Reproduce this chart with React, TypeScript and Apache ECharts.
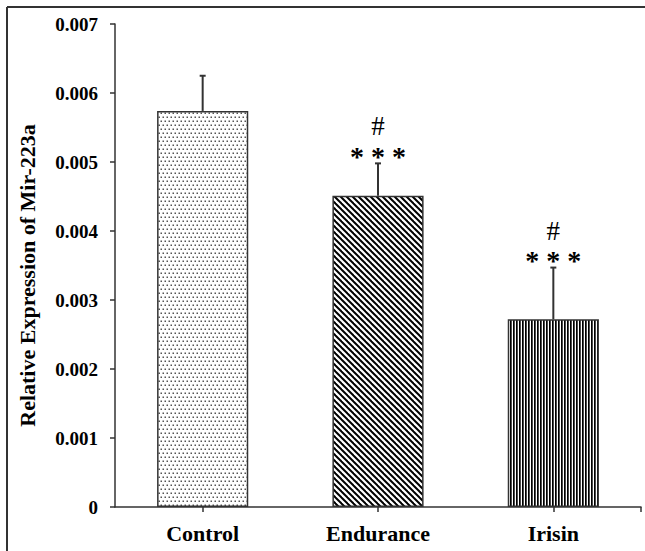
import React, { useEffect, useRef } from 'react';
import * as echarts from 'echarts';

const categories = ['Control', 'Endurance', 'Irisin'];
const means = [0.00574, 0.00451, 0.00272];
const errorTops = [0.00625, 0.00498, 0.00347];
const sigStars = ['', '* * *', '* * *'];
const sigHash = ['', '#', '#'];
const yTickLabels = ['0', '0.001', '0.002', '0.003', '0.004', '0.005', '0.006', '0.007'];
const yAxisName = 'Relative Expression of Mir-223a';

const W = 645;
const H = 551;
const GRID = { left: 115, right: 4, top: 24, bottom: 44 };
const FONT = '"Liberation Serif", "Times New Roman", serif';

function makeCanvas(w: number, h: number, draw: (ctx: CanvasRenderingContext2D) => void) {
  const c = document.createElement('canvas');
  c.width = w;
  c.height = h;
  const ctx = c.getContext('2d')!;
  ctx.fillStyle = '#fff';
  ctx.fillRect(0, 0, w, h);
  draw(ctx);
  return c;
}

function makePatterns() {
  const dots = makeCanvas(8, 8, (ctx) => {
    ctx.fillStyle = '#555';
    ctx.fillRect(0.5, 0.5, 1.5, 1.5);
    ctx.fillRect(4.5, 0.5, 1.5, 1.5);
    ctx.fillRect(2.5, 4.5, 1.5, 1.5);
    ctx.fillRect(6.5, 4.5, 1.5, 1.5);
  });
  const diag = makeCanvas(6, 6, (ctx) => {
    ctx.strokeStyle = '#000';
    ctx.lineWidth = 2;
    for (const k of [-6, 0, 6]) {
      ctx.beginPath();
      ctx.moveTo(k - 1, -1);
      ctx.lineTo(k + 7, 7);
      ctx.stroke();
    }
  });
  const vert = makeCanvas(3, 4, (ctx) => {
    ctx.fillStyle = '#000';
    ctx.fillRect(0, 0, 1.7, 4);
  });
  return [
    { image: dots, repeat: 'repeat', imageWidth: 8, imageHeight: 8 },
    { image: diag, repeat: 'repeat', imageWidth: 6, imageHeight: 6 },
    { image: vert, repeat: 'repeat', imageWidth: 3, imageHeight: 4 },
  ];
}

export default function App() {
  const ref = useRef<HTMLDivElement>(null);

  useEffect(() => {
    document.body.style.margin = '0';
    if (!ref.current) return;
    const chart = echarts.init(ref.current, null, { renderer: 'svg' });
    const patterns = makePatterns();
    const axisEndX = W - GRID.right;
    const axisY = H - GRID.bottom;

    const option: any = {
      animation: false,
      backgroundColor: '#fff',
      grid: { ...GRID, containLabel: false },
      xAxis: {
        type: 'category',
        data: categories,
        boundaryGap: true,
        axisLine: { show: true, lineStyle: { color: '#333', width: 1.5 } },
        axisTick: { show: true, alignWithLabel: true, length: 5, lineStyle: { color: '#333', width: 1.5 } },
        axisLabel: { margin: 15, color: '#000', fontFamily: FONT, fontWeight: 'bold', fontSize: 22 },
        splitLine: { show: false },
      },
      yAxis: {
        type: 'value',
        min: 0,
        max: 0.007,
        interval: 0.001,
        name: yAxisName,
        nameLocation: 'middle',
        nameRotate: 90,
        nameGap: 77,
        nameTextStyle: { color: '#000', fontFamily: FONT, fontWeight: 'bold', fontSize: 22, padding: [0, 20, 0, 0] },
        axisLine: { show: true, lineStyle: { color: '#333', width: 1.5 } },
        axisTick: { show: true, length: 5, lineStyle: { color: '#333', width: 1.5 } },
        axisLabel: {
          margin: 17,
          color: '#000',
          fontFamily: FONT,
          fontWeight: 'bold',
          fontSize: 19,
          formatter: (v: number) => yTickLabels[Math.round(v / 0.001)] ?? String(v),
        },
        splitLine: { show: false },
      },
      series: [
        {
          type: 'bar',
          barWidth: '52%',
          data: means.map((v, i) => ({
            value: v,
            itemStyle: { color: patterns[i], borderColor: '#333', borderWidth: 1.5 },
          })),
        },
        {
          type: 'custom',
          z: 5,
          data: means.map((m, i) => [i, m, errorTops[i]]),
          renderItem: (params: any, api: any) => {
            const i = api.value(0);
            const base = api.coord([i, api.value(1)]);
            const top = api.coord([i, api.value(2)]);
            const x = base[0];
            const idx = params.dataIndex;
            const children: any[] = [
              { type: 'line', shape: { x1: x, y1: base[1], x2: x, y2: top[1] }, style: { stroke: '#333', lineWidth: 2 } },
              { type: 'line', shape: { x1: x - 3, y1: top[1], x2: x + 3, y2: top[1] }, style: { stroke: '#333', lineWidth: 2 } },
            ];
            if (sigStars[idx]) {
              children.push({
                type: 'text',
                x,
                y: top[1] - 7,
                style: { text: sigStars[idx], fill: '#000', font: `bold 28px ${FONT}`, align: 'center', verticalAlign: 'middle' },
              });
            }
            if (sigHash[idx]) {
              children.push({
                type: 'text',
                x,
                y: top[1] - 37,
                style: { text: sigHash[idx], fill: '#000', font: `27px ${FONT}`, align: 'center', verticalAlign: 'middle' },
              });
            }
            return { type: 'group', children };
          },
        },
      ],
      graphic: [
        { type: 'line', shape: { x1: 7, y1: 7, x2: W, y2: 7 }, style: { stroke: '#333', lineWidth: 2 } },
        { type: 'line', shape: { x1: 7, y1: 7, x2: 7, y2: H }, style: { stroke: '#333', lineWidth: 2 } },
        { type: 'line', shape: { x1: axisEndX, y1: axisY, x2: axisEndX, y2: axisY + 5 }, style: { stroke: '#333', lineWidth: 1.5 } },
      ],
    };
    chart.setOption(option);
    return () => chart.dispose();
  }, []);

  return <div ref={ref} style={{ width: W, height: H }} />;
}
